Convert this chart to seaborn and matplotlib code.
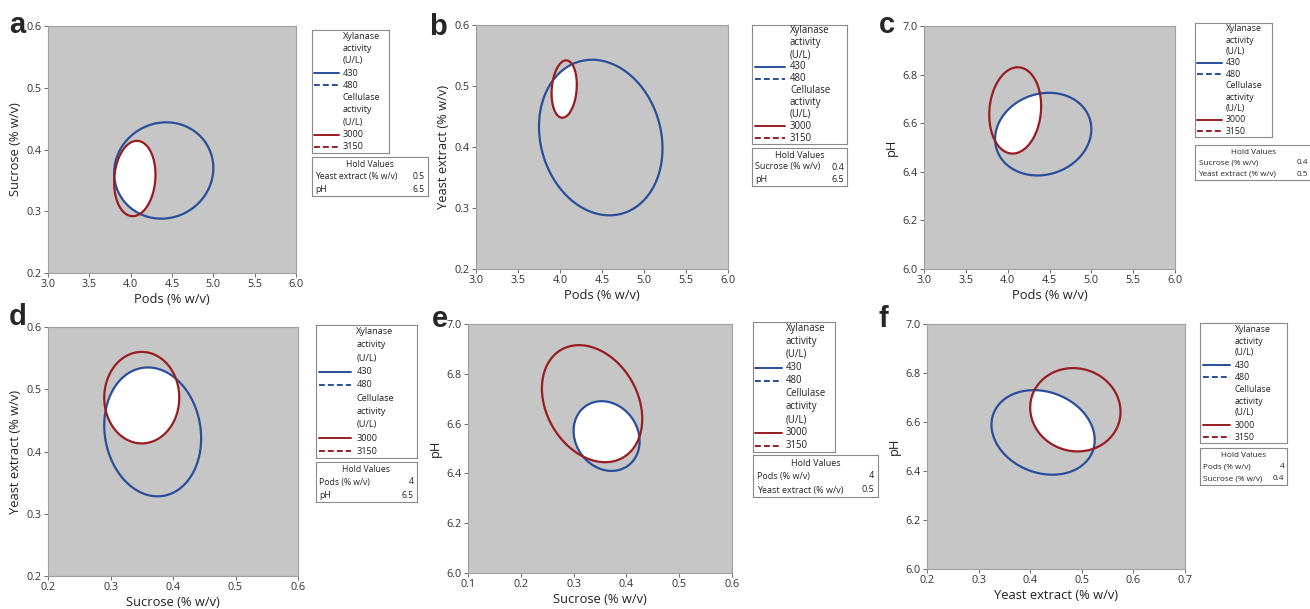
import numpy as np
import matplotlib
matplotlib.use('Agg')
import matplotlib.pyplot as plt
import seaborn as sns

# -- Data --
panel_letters = ['a', 'b', 'c', 'd', 'e', 'f']
x_labels = ['Pods (% w/v)', 'Pods (% w/v)', 'Pods (% w/v)',
            'Sucrose (% w/v)', 'Sucrose (% w/v)', 'Yeast extract (% w/v)']
y_labels = ['Sucrose (% w/v)', 'Yeast extract (% w/v)', 'pH',
            'Yeast extract (% w/v)', 'pH', 'pH']

pods_ticks = [3.0, 3.5, 4.0, 4.5, 5.0, 5.5, 6.0]
conc_ticks = [0.2, 0.3, 0.4, 0.5, 0.6]
ph_ticks = [6.0, 6.2, 6.4, 6.6, 6.8, 7.0]
x_ticks = [pods_ticks, pods_ticks, pods_ticks,
           conc_ticks, [0.1, 0.2, 0.3, 0.4, 0.5, 0.6], [0.2, 0.3, 0.4, 0.5, 0.6, 0.7]]
y_ticks = [conc_ticks, conc_ticks, ph_ticks, conc_ticks, ph_ticks, ph_ticks]

# contour levels shown in the legend
xyl_levels = [430, 480]
cel_levels = [3000, 3150]

# 430 U/L xylanase contour: centre, half-span (x, y), tilt
xyl_center = [(4.40, 0.366), (4.485, 0.4155), (4.425, 6.555),
              (0.3675, 0.4315), (0.3625, 6.55), (0.425, 6.5575)]
xyl_span = [(0.60, 0.078), (0.735, 0.1275), (0.575, 0.17),
            (0.0775, 0.1035), (0.0625, 0.14), (0.10, 0.1725)]
xyl_tilt = [0.05, -0.14, 0.12, -0.1, -0.15, -0.18]

# 3000 U/L cellulase contour
cel_center = [(4.05, 0.353), (4.05, 0.495), (4.09, 6.6525),
              (0.35, 0.4865), (0.335, 6.68), (0.4875, 6.65)]
cel_span = [(0.25, 0.061), (0.15, 0.047), (0.31, 0.1775),
            (0.06, 0.0735), (0.095, 0.235), (0.0875, 0.17)]
cel_tilt = [0.1, 0.15, 0.1, 0.0, -0.26, -0.05]

hold_names = [['Yeast extract (% w/v)', 'pH'], ['Sucrose (% w/v)', 'pH'],
              ['Sucrose (% w/v)', 'Yeast extract (% w/v)'], ['Pods (% w/v)', 'pH'],
              ['Pods (% w/v)', 'Yeast extract (% w/v)'], ['Pods (% w/v)', 'Sucrose (% w/v)']]
hold_values = [['0.5', '6.5'], ['0.4', '6.5'], ['0.4', '0.5'],
               ['4', '6.5'], ['4', '0.5'], ['4', '0.4']]

# -- Layout (pixel boxes: left, top, right, bottom) --
W, H = 1310, 609
axes_px = [(48, 26, 296, 273), (476, 25, 728, 269), (924, 26, 1175, 269),
           (48, 327, 298, 576), (468, 324, 732, 573), (927, 324, 1185, 569)]
legend_px = [(312, 30, 389, 153), (752, 25, 847, 144), (1195, 23, 1272, 137),
             (316, 325, 417, 458), (753, 322, 835, 452), (1200, 323, 1287, 443)]
hold_px = [(312, 157, 428, 196), (752, 148, 847, 186), (1195, 145, 1312, 180),
           (316, 462, 417, 502), (753, 455, 878, 497), (1200, 448, 1287, 485)]
letter_px = [(9, 33), (429, 35), (879, 33), (9, 325), (432, 327), (878, 327)]
legend_fs = [6.6, 6.9, 6.3, 6.6, 6.9, 6.3]

BLUE = '#2a4e9a'
RED = '#981d22'
GRAY_BG = '#c6c6c6'
FRAME = '#8a8a8a'

sns.set_theme(style='ticks')
plt.rcParams['font.family'] = ['Open Sans', 'DejaVu Sans']


def px_rect(box):
    x0, y0, x1, y1 = box
    return [x0 / W, 1 - y1 / H, (x1 - x0) / W, (y1 - y0) / H]


def quad_form(X, Y, center, span, rho):
    u = (X - center[0]) / span[0]
    v = (Y - center[1]) / span[1]
    return (u * u + v * v - 2 * rho * u * v) / (1 - rho ** 2)


def draw_legend(rect, fs):
    lax = fig.add_axes(rect)
    lax.set_xlim(0, 1)
    lax.set_ylim(10, 0)
    lax.set_xticks([])
    lax.set_yticks([])
    for s in lax.spines.values():
        s.set_color(FRAME)
        s.set_linewidth(0.8)
    entries = [('Xylanase', None, '-'), ('activity', None, '-'), ('(U/L)', None, '-'),
               (str(xyl_levels[0]), BLUE, '-'), (str(xyl_levels[1]), BLUE, '--'),
               ('Cellulase', None, '-'), ('activity', None, '-'), ('(U/L)', None, '-'),
               (str(cel_levels[0]), RED, '-'), (str(cel_levels[1]), RED, '--')]
    for i, (txt, col, ls) in enumerate(entries):
        y = i + 0.5
        lax.text(0.40, y, txt, ha='left', va='center', fontsize=fs, color='#222222')
        if col is not None:
            line, = lax.plot([0.03, 0.35], [y, y], color=col, lw=1.4, ls=ls)
            if ls == '--':
                line.set_dashes((3, 1.6))


def draw_hold(rect, names, values, fs):
    hax = fig.add_axes(rect)
    hax.set_xlim(0, 1)
    hax.set_ylim(3, 0)
    hax.set_xticks([])
    hax.set_yticks([])
    for s in hax.spines.values():
        s.set_color(FRAME)
        s.set_linewidth(0.8)
    hax.text(0.5, 0.6, 'Hold Values', ha='center', va='center', fontsize=fs, color='#222222')
    for j, (nm, val) in enumerate(zip(names, values)):
        hax.text(0.03, j + 1.5, nm, ha='left', va='center', fontsize=fs, color='#222222')
        hax.text(0.97, j + 1.5, val, ha='right', va='center', fontsize=fs, color='#222222')


fig = plt.figure(figsize=(W / 100, H / 100), dpi=100)

for k in range(6):
    ax = fig.add_axes(px_rect(axes_px[k]))
    x0, x1 = x_ticks[k][0], x_ticks[k][-1]
    y0, y1 = y_ticks[k][0], y_ticks[k][-1]
    X, Y = np.meshgrid(np.linspace(x0, x1, 500), np.linspace(y0, y1, 500))
    q_xyl = quad_form(X, Y, xyl_center[k], xyl_span[k], xyl_tilt[k])
    q_cel = quad_form(X, Y, cel_center[k], cel_span[k], cel_tilt[k])

    ax.set_facecolor(GRAY_BG)
    # feasible region: inside both contours
    ax.contourf(X, Y, np.maximum(q_xyl, q_cel), levels=[0, 1], colors='white')
    ax.contour(X, Y, q_xyl, levels=[1], colors=BLUE, linewidths=1.6)
    ax.contour(X, Y, q_cel, levels=[1], colors=RED, linewidths=1.6)

    ax.set_xlim(x0, x1)
    ax.set_ylim(y0, y1)
    ax.set_xticks(x_ticks[k])
    ax.set_yticks(y_ticks[k])
    ax.set_xticklabels([f'{t:.1f}' for t in x_ticks[k]])
    ax.set_yticklabels([f'{t:.1f}' for t in y_ticks[k]])
    ax.tick_params(length=3, width=0.6, color='#555555', pad=1.5,
                   labelsize=7.8, labelcolor='#333333')
    for s in ax.spines.values():
        s.set_color('#a0a0a0')
        s.set_linewidth(0.8)
    ax.set_xlabel(x_labels[k], fontsize=9.3, color='#222222', labelpad=2)
    ax.set_ylabel(y_labels[k], fontsize=9.3, color='#222222', labelpad=3)

    draw_legend(px_rect(legend_px[k]), legend_fs[k])
    draw_hold(px_rect(hold_px[k]), hold_names[k], hold_values[k], legend_fs[k] - 0.4)

    lx, ly = letter_px[k]
    fig.text(lx / W, 1 - ly / H, panel_letters[k], fontsize=21, fontweight='bold',
             family=['Liberation Sans', 'DejaVu Sans'], ha='left', va='baseline')

fig.savefig('out.png', dpi=100)
